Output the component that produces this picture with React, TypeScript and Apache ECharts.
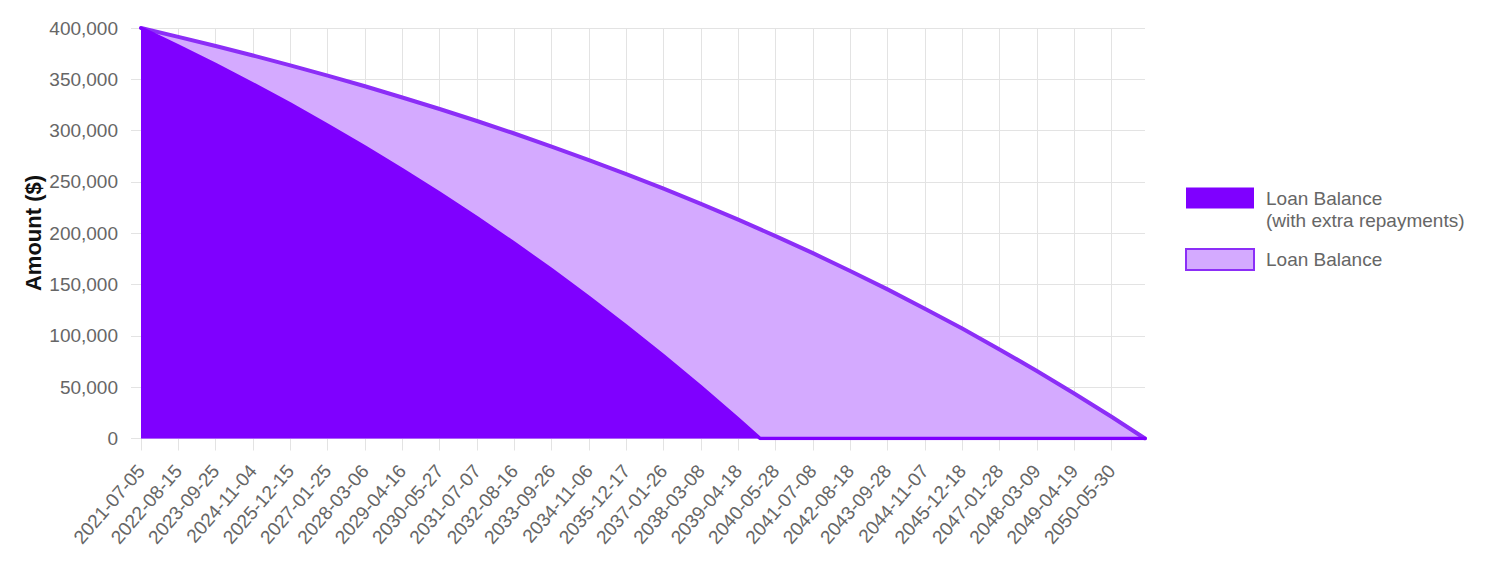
import React, { useEffect, useRef } from "react";
import * as echarts from "echarts";

// Tick labels (dates shown on the x axis) and their position in weeks from start
const tickLabels = [
  "2021-07-05", "2022-08-15", "2023-09-25", "2024-11-04", "2025-12-15", "2027-01-25",
  "2028-03-06", "2029-04-16", "2030-05-27", "2031-07-07", "2032-08-16", "2033-09-26",
  "2034-11-06", "2035-12-17", "2037-01-26", "2038-03-08", "2039-04-18", "2040-05-28",
  "2041-07-08", "2042-08-18", "2043-09-28", "2044-11-07", "2045-12-18", "2047-01-28",
  "2048-03-09", "2049-04-19", "2050-05-30",
];
const tickWeeks = [
  0, 58, 116, 174, 232, 290, 348, 406, 464, 522, 580, 638, 696, 754,
  812, 870, 928, 986, 1044, 1102, 1160, 1218, 1276, 1334, 1392, 1450, 1508,
];
const lastWeek = 1560;

// Loan Balance (regular repayments)
const balanceWeeks = [
  0, 58, 116, 174, 232, 290, 348, 406, 464, 522, 580, 638, 696, 754,
  812, 870, 928, 986, 1044, 1102, 1160, 1218, 1276, 1334, 1392, 1450, 1508, 1560,
];
const balanceValues = [
  400000, 391400, 382500, 373200, 363600, 353600, 343200, 332300, 321100, 309400,
  297200, 284500, 271300, 257600, 243400, 228600, 213200, 197200, 180600, 163200,
  145300, 126500, 107100, 86800, 65800, 43900, 21200, 0,
];

// Loan Balance (with extra repayments)
const extraWeeks = [
  0, 58, 116, 174, 232, 290, 348, 406, 464, 522, 580, 638, 696, 754,
  812, 870, 928, 962, 1560,
];
const extraValues = [
  400000, 382500, 364300, 345400, 325800, 305300, 284100, 262000, 239000, 215100,
  190300, 164400, 137600, 109600, 80600, 50400, 19000, 0, 0,
];

const EXTRA_NAME = "Loan Balance (with extra repayments)";
const BASE_NAME = "Loan Balance";
const Y_TITLE = "Amount ($)";

const FONT = "'Liberation Sans', Arial, Helvetica, sans-serif";
const GRID = "#e3e3e3";
const DARK = "#7f00ff";
const LIGHT_FILL = "#d4aaff";
const LIGHT_LINE = "#8c2ef7";
const TEXT = "#666666";

function withCommas(v: number): string {
  const s = String(Math.round(v));
  return s.replace(/\B(?=(\d{3})+(?!\d))/g, ",");
}

export default function App() {
  const ref = useRef<HTMLDivElement>(null);

  useEffect(() => {
    if (!ref.current) return;
    const chart = echarts.init(ref.current, undefined, { renderer: "svg" });

    const splitColors = tickWeeks.map(() => GRID).concat(["rgba(0,0,0,0)"]);

    const option: any = {
      animation: false,
      textStyle: { fontFamily: FONT },
      grid: { left: 141, right: 355, top: 28, bottom: 126.5, containLabel: false },
      graphic: [
        {
          type: "text",
          x: 33.5,
          y: 233,
          rotation: Math.PI / 2,
          silent: true,
          style: {
            text: Y_TITLE,
            fill: "#111",
            font: "bold 22px 'Liberation Sans', Arial, sans-serif",
            align: "center",
            verticalAlign: "middle",
          },
        },
      ],
      legend: {
        orient: "vertical",
        left: 1185,
        top: 165,
        padding: 0,
        itemGap: 17,
        itemWidth: 68,
        itemHeight: 21,
        selectedMode: false,
        textStyle: { color: TEXT, fontSize: 19, lineHeight: 22, fontFamily: FONT, padding: [0, 0, 0, 7] },
        formatter: (n: string) => (n === EXTRA_NAME ? " \nLoan Balance\n(with extra repayments)" : n),
        data: [
          {
            name: EXTRA_NAME,
            icon: "rect",
            itemStyle: { color: DARK, borderColor: DARK, borderWidth: 0 },
          },
          {
            name: BASE_NAME,
            icon: "rect",
            itemStyle: { color: LIGHT_FILL, borderColor: LIGHT_LINE, borderWidth: 2 },
          },
        ],
      },
      xAxis: {
        type: "value",
        min: 0,
        max: lastWeek,
        interval: 58,
        axisLine: { show: true, lineStyle: { color: GRID } },
        axisTick: { show: true, length: 12, lineStyle: { color: GRID }, customValues: tickWeeks },
        axisLabel: {
          customValues: tickWeeks,
          rotate: 49,
          margin: 29,
          color: TEXT,
          fontSize: 19,
          fontFamily: FONT,
          hideOverlap: false,
          formatter: (v: number) => {
            const i = tickWeeks.indexOf(v);
            return i >= 0 ? tickLabels[i] : "";
          },
        },
        splitLine: { show: true, lineStyle: { color: splitColors, width: 1 } },
      },
      yAxis: {
        type: "value",
        min: 0,
        max: 400000,
        interval: 50000,
        axisLine: { show: true, lineStyle: { color: GRID } },
        axisTick: { show: true, length: 10, lineStyle: { color: GRID } },
        axisLabel: { color: TEXT, fontSize: 19, margin: 23, fontFamily: FONT, formatter: (v: number) => withCommas(v) },
        splitLine: { show: true, lineStyle: { color: GRID, width: 1 } },
      },
      series: [
        {
          name: BASE_NAME,
          type: "line",
          data: balanceWeeks.map((w, i) => [w, balanceValues[i]]),
          showSymbol: false,
          symbol: "none",
          lineStyle: { color: LIGHT_LINE, width: 4, cap: "round", join: "round" },
          itemStyle: { color: LIGHT_LINE },
          areaStyle: { color: LIGHT_FILL, opacity: 1 },
          z: 2,
        },
        {
          name: EXTRA_NAME,
          type: "line",
          data: extraWeeks.map((w, i) => [w, extraValues[i]]),
          showSymbol: false,
          symbol: "none",
          lineStyle: { color: DARK, width: 3.5, cap: "round", join: "round" },
          itemStyle: { color: DARK },
          areaStyle: { color: DARK, opacity: 1 },
          z: 3,
        },
      ],
    };

    chart.setOption(option);
    return () => {
      chart.dispose();
    };
  }, []);

  return (
    <div
      ref={ref}
      style={{ position: "absolute", left: 0, top: 0, width: 1500, height: 565, background: "#ffffff" }}
    />
  );
}
